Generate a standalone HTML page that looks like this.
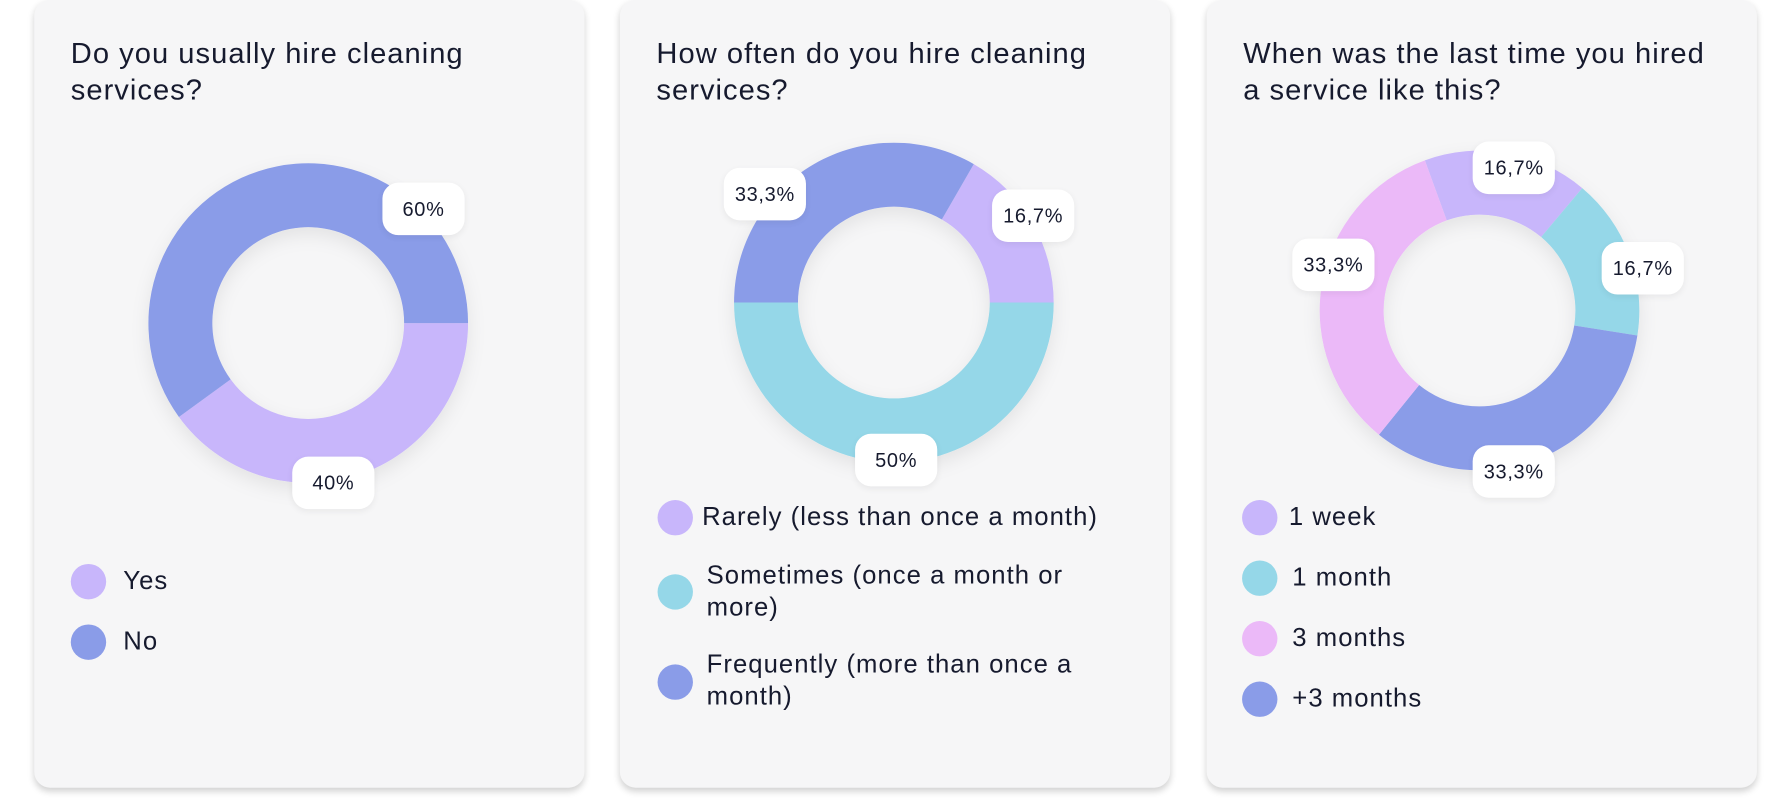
<!DOCTYPE html>
<html><head><meta charset="utf-8"><style>
html,body{margin:0;padding:0;background:#fff;width:1790px;height:800px;overflow:hidden}
#w{position:absolute;left:0;top:0;width:1568px;height:710px;transform-origin:0 0;transform:scale(1.1416,1.1416);font-family:"Liberation Sans",sans-serif;color:#161a2e}
.card{position:absolute;top:0;width:482px;height:690px;background:#f6f6f7;border-radius:14px;box-shadow:0 3px 6px rgba(0,0,0,0.18)}
.t{position:absolute;font-size:25.5px;line-height:32px;letter-spacing:0.9px}
.lab{position:absolute;background:#fff;border-radius:14px;font-size:17.5px;letter-spacing:0.6px;width:72px;height:46px;line-height:46px;text-align:center;box-shadow:0 2px 6px rgba(0,0,0,0.06)}
.dot{position:absolute;width:31px;height:31px;border-radius:50%}
.lt{position:absolute;font-size:22.5px;line-height:28px;letter-spacing:0.9px}
svg{position:absolute;left:0;top:0}
</style></head><body><div id="w">
<div class="card" style="left:30px"></div>
<div class="card" style="left:543px"></div>
<div class="card" style="left:1057px"></div>
<svg width="1568" height="710" id="s">
<defs><filter id="sh" x="-20%" y="-20%" width="140%" height="140%"><feDropShadow dx="0" dy="6" stdDeviation="8" flood-color="#000" flood-opacity="0.08"/></filter></defs>
<g id="g" filter="url(#sh)"></g>
</svg>
<div class="t" style="left:62px;top:31px">Do you usually hire cleaning<br>services?</div>
<div class="t" style="left:575px;top:31px">How often do you hire cleaning<br>services?</div>
<div class="t" style="left:1089px;top:31px">When was the last time you hired<br>a service like this?</div>

<div class="lab" style="left:335px;top:160px">60%</div>
<div class="lab" style="left:256px;top:400px">40%</div>
<div class="dot" style="left:62px;top:494px;background:#c8b6fb"></div><div class="lt" style="left:108px;top:495px">Yes</div>
<div class="dot" style="left:62px;top:547px;background:#8a9ce8"></div><div class="lt" style="left:108px;top:548px">No</div>

<div class="lab" style="left:634px;top:147px">33,3%</div>
<div class="lab" style="left:869px;top:166px">16,7%</div>
<div class="lab" style="left:749px;top:380px">50%</div>
<div class="dot" style="left:576px;top:438px;background:#c8b6fb"></div><div class="lt" style="left:615px;top:439px">Rarely (less than once a month)</div>
<div class="dot" style="left:576px;top:503px;background:#95d7e8"></div><div class="lt" style="left:619px;top:490px">Sometimes (once a month or<br>more)</div>
<div class="dot" style="left:576px;top:582px;background:#8a9ce8"></div><div class="lt" style="left:619px;top:568px">Frequently (more than once a<br>month)</div>

<div class="lab" style="left:1290px;top:124px">16,7%</div>
<div class="lab" style="left:1403px;top:212px">16,7%</div>
<div class="lab" style="left:1132px;top:209px">33,3%</div>
<div class="lab" style="left:1290px;top:390px">33,3%</div>
<div class="dot" style="left:1088px;top:438px;background:#c8b6fb"></div><div class="lt" style="left:1129px;top:439px">1 week</div>
<div class="dot" style="left:1088px;top:491px;background:#95d7e8"></div><div class="lt" style="left:1132px;top:492px">1 month</div>
<div class="dot" style="left:1088px;top:544px;background:#ebb9f8"></div><div class="lt" style="left:1132px;top:545px">3 months</div>
<div class="dot" style="left:1088px;top:597px;background:#8a9ce8"></div><div class="lt" style="left:1132px;top:598px">+3 months</div>
</div>
<script>
function arc(cx,cy,R,r,a0,a1,c){var d=Math.PI/180,p=function(rr,a){return (cx+rr*Math.cos(a*d)).toFixed(2)+' '+(cy+rr*Math.sin(a*d)).toFixed(2)};var l=(a1-a0)>180?1:0;
return '<path fill="'+c+'" d="M'+p(R,a0)+' A'+R+' '+R+' 0 '+l+' 1 '+p(R,a1)+' L'+p(r,a1)+' A'+r+' '+r+' 0 '+l+' 0 '+p(r,a0)+'Z"/>';}
var B='#8a9ce8',L='#c8b6fb',C='#95d7e8',P='#ebb9f8',h='';
h+=arc(270,283,140,84,0,144,L)+arc(270,283,140,84,144,360,B);
h+=arc(783,265,140,84,-60,0,L)+arc(783,265,140,84,0,180,C)+arc(783,265,140,84,180,300,B);
h+=arc(1296,272,140,84,-110,-50,L)+arc(1296,272,140,84,-50,9,C)+arc(1296,272,140,84,9,129,B)+arc(1296,272,140,84,129,250,P);
document.getElementById('g').innerHTML=h;
</script>
</body></html>
